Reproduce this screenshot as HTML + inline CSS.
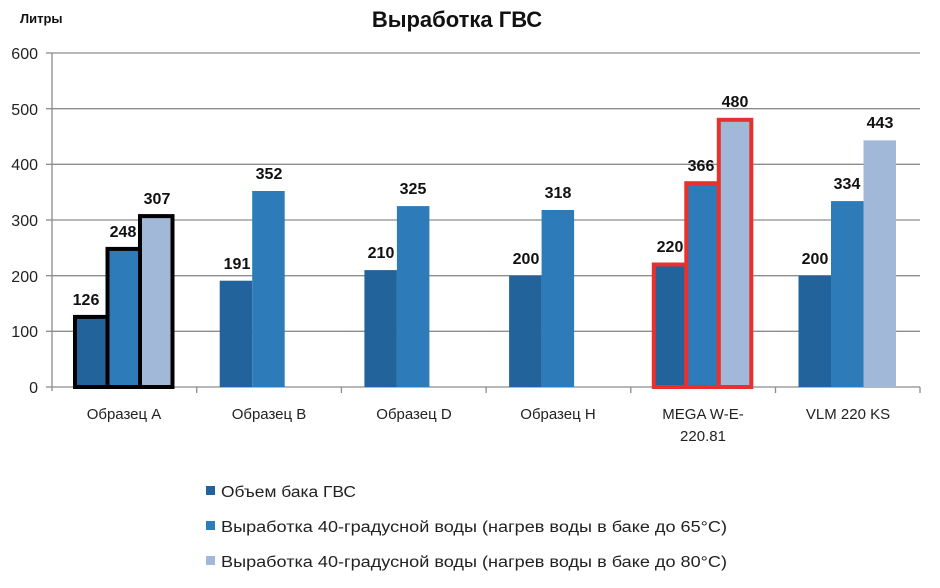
<!DOCTYPE html>
<html><head><meta charset="utf-8"><style>
html,body{margin:0;padding:0;background:#fff;}
svg{display:block;font-family:"Liberation Sans","DejaVu Sans",sans-serif;}
</style></head><body>
<svg width="940" height="588" viewBox="0 0 940 588" xmlns="http://www.w3.org/2000/svg">
<rect width="940" height="588" fill="#fff"/>
<text x="457" y="27" text-anchor="middle" font-size="22" font-weight="bold" fill="#111">Выработка ГВС</text>
<text x="20" y="23" font-size="13" font-weight="bold" fill="#111">Литры</text>
<g stroke="#8c8c8c" stroke-width="1.3">
<line x1="52" y1="53" x2="920" y2="53"/>
<line x1="52" y1="108.7" x2="920" y2="108.7"/>
<line x1="52" y1="164.3" x2="920" y2="164.3"/>
<line x1="52" y1="220" x2="920" y2="220"/>
<line x1="52" y1="275.7" x2="920" y2="275.7"/>
<line x1="52" y1="331.3" x2="920" y2="331.3"/>
<line x1="52" y1="387" x2="920" y2="387"/>
<line x1="52" y1="53" x2="52" y2="391"/>
<line x1="46" y1="53" x2="52" y2="53"/><line x1="46" y1="108.7" x2="52" y2="108.7"/><line x1="46" y1="164.3" x2="52" y2="164.3"/><line x1="46" y1="220" x2="52" y2="220"/><line x1="46" y1="275.7" x2="52" y2="275.7"/><line x1="46" y1="331.3" x2="52" y2="331.3"/><line x1="46" y1="387" x2="52" y2="387"/>
<line x1="196.7" y1="387" x2="196.7" y2="393"/><line x1="341.4" y1="387" x2="341.4" y2="393"/><line x1="486.1" y1="387" x2="486.1" y2="393"/><line x1="630.8" y1="387" x2="630.8" y2="393"/><line x1="775.5" y1="387" x2="775.5" y2="393"/><line x1="920" y1="387" x2="920" y2="393"/>
</g>
<g font-size="16" fill="#222" text-anchor="end">
<text x="38" y="59">600</text><text x="38" y="115">500</text><text x="38" y="170">400</text><text x="38" y="226">300</text><text x="38" y="282">200</text><text x="38" y="337">100</text><text x="38" y="393">0</text>
</g>
<g>
<rect x="75" y="316.9" width="32.5" height="70.1" fill="#21639a" stroke="#000" stroke-width="4"/>
<rect x="107.5" y="248.9" width="32.5" height="138.1" fill="#2e7bb9" stroke="#000" stroke-width="4"/>
<rect x="140" y="216.1" width="32.5" height="170.9" fill="#a2b8d8" stroke="#000" stroke-width="4"/>

<rect x="219.7" y="280.7" width="32.5" height="106.3" fill="#21639a"/>
<rect x="252.2" y="191" width="32.5" height="196" fill="#2e7bb9"/>

<rect x="364.4" y="270.1" width="32.5" height="116.9" fill="#21639a"/>
<rect x="396.9" y="206.1" width="32.5" height="180.9" fill="#2e7bb9"/>

<rect x="509.1" y="275.7" width="32.5" height="111.3" fill="#21639a"/>
<rect x="541.6" y="210" width="32.5" height="177" fill="#2e7bb9"/>

<rect x="653.8" y="264.5" width="32.5" height="122.5" fill="#21639a" stroke="#e8302c" stroke-width="4"/>
<rect x="686.3" y="183.2" width="32.5" height="203.8" fill="#2e7bb9" stroke="#e8302c" stroke-width="4"/>
<rect x="718.8" y="119.8" width="32.5" height="267.2" fill="#a2b8d8" stroke="#e8302c" stroke-width="4"/>

<rect x="798.5" y="275.7" width="32.5" height="111.3" fill="#21639a"/>
<rect x="831" y="201.1" width="32.5" height="185.9" fill="#2e7bb9"/>
<rect x="863.5" y="140.4" width="32.5" height="246.6" fill="#a2b8d8"/>
</g>
<g font-size="16" font-weight="bold" fill="#111" text-anchor="middle">
<text x="86" y="305">126</text><text x="123" y="237">248</text><text x="157" y="204">307</text>
<text x="237" y="269">191</text><text x="269" y="179">352</text>
<text x="381" y="258">210</text><text x="413" y="194">325</text>
<text x="526" y="264">200</text><text x="558" y="198">318</text>
<text x="670" y="252">220</text><text x="701" y="171">366</text>
<text x="735" y="107">480</text>
<text x="815" y="264">200</text><text x="847" y="189">334</text><text x="880" y="128">443</text>
</g>
<g font-size="15" fill="#222" text-anchor="middle">
<text x="124" y="419">Образец A</text>
<text x="269" y="419">Образец B</text>
<text x="414" y="419">Образец D</text>
<text x="558" y="419">Образец H</text>
<text x="703" y="419">MEGA W-E-</text>
<text x="703" y="441">220.81</text>
<text x="848" y="419">VLM 220 KS</text>
</g>
<rect x="206" y="486" width="9" height="9" fill="#21639a"/>
<rect x="206" y="521" width="9" height="9" fill="#2e7bb9"/>
<rect x="206" y="556" width="9" height="9" fill="#a2b8d8"/>
<g font-size="15.5" fill="#222">
<text x="221" y="497" textLength="135" lengthAdjust="spacingAndGlyphs">Объем бака ГВС</text>
<text x="221" y="532" textLength="506" lengthAdjust="spacingAndGlyphs">Выработка 40-градусной воды (нагрев воды в баке до 65°C)</text>
<text x="221" y="567" textLength="506" lengthAdjust="spacingAndGlyphs">Выработка 40-градусной воды (нагрев воды в баке до 80°C)</text>
</g>
</svg>
</body></html>
